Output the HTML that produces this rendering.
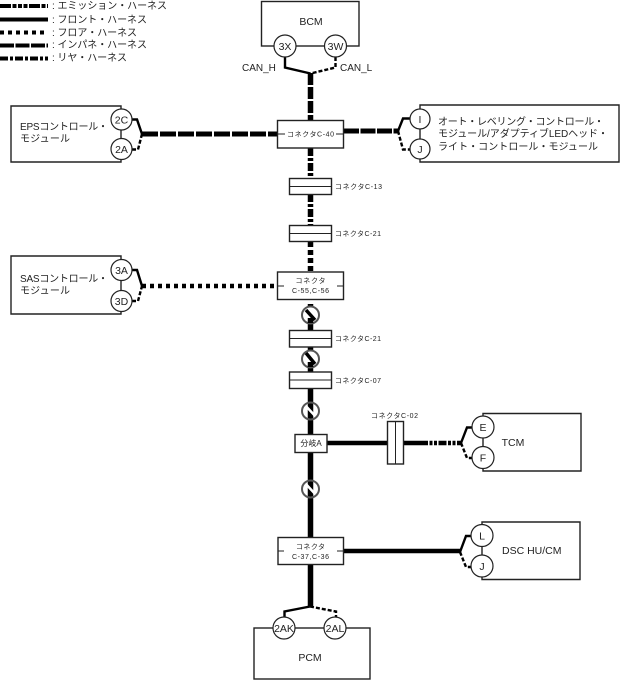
<!DOCTYPE html>
<html>
<head>
<meta charset="utf-8">
<style>
html,body{margin:0;padding:0;background:#fff;width:620px;height:680px;overflow:hidden}
svg{display:block}
text{font-family:"Liberation Sans","Noto Sans CJK JP",sans-serif;fill:#222}
.b{fill:#fff;stroke:#222;stroke-width:1.4}
.l{fill:none;stroke:#000;stroke-linejoin:miter}
.c{fill:#fff;stroke:#222;stroke-width:1.2}
.m{font-size:10px}
.s{font-size:7px}
.p{font-size:10.5px;text-anchor:middle}
</style>
</head>
<body>
<svg width="620" height="680" viewBox="0 0 620 680" xmlns="http://www.w3.org/2000/svg">
<!-- legend -->
<g class="l" stroke-width="4" style="stroke:#000">
<path d="M0 6H48" stroke-dasharray="11 1.5 4 1.5 4 1.5 4 1.5"/>
<path d="M0 19.5H48"/>
<path d="M0 32.5H48" stroke-dasharray="4 4"/>
<path d="M0 45.5H48" stroke-dasharray="14 1.5"/>
<path d="M0 58.5H48" stroke-dasharray="8 2 3 2"/>
</g>
<text class="m" x="52" y="9" textLength="115">: エミッション・ハーネス</text>
<text class="m" x="52" y="23" textLength="95">: フロント・ハーネス</text>
<text class="m" x="52" y="36" textLength="85">: フロア・ハーネス</text>
<text class="m" x="52" y="48" textLength="95">: インパネ・ハーネス</text>
<text class="m" x="52" y="61" textLength="75">: リヤ・ハーネス</text>

<!-- harness verticals -->
<path class="l" stroke-width="5.5" d="M310.5 73V120" stroke-dasharray="12 2"/>
<path class="l" stroke-width="5.5" d="M310.5 148V178" stroke-dasharray="8 2 3 2"/>
<path class="l" stroke-width="5.5" d="M310.5 194V225" stroke-dasharray="8 2 3 2"/>
<path class="l" stroke-width="5.5" d="M310.5 242V272" stroke-dasharray="5 3"/>
<path class="l" stroke-width="5.5" d="M310.5 304V330M310.5 347V372M310.5 388V537M310.5 564V606"/>

<!-- horizontals -->
<path class="l" stroke-width="5" d="M142 134H277" stroke-dasharray="16 2"/>
<path class="l" stroke-width="5" d="M344 131H398" stroke-dasharray="15 1.5"/>
<path class="l" stroke-width="4.5" d="M142 286H277" stroke-dasharray="4 4"/>
<path class="l" stroke-width="4.5" d="M327 443H387"/>
<path class="l" stroke-width="4.5" d="M403 443H420"/>
<path class="l" stroke-width="4.5" d="M420 443H461" stroke-dasharray="8 1.5 3 1.5 3 1.5"/>
<path class="l" stroke-width="4.5" d="M344 551H460"/>

<!-- BCM -->
<rect class="b" x="261.5" y="1.5" width="97.5" height="44.5"/>
<text class="p" x="311" y="25" style="font-size:10.5px">BCM</text>
<path class="l" stroke-width="2.4" d="M285 57V67.5L310.5 73.5"/>
<path class="l" stroke-width="2.4" stroke-dasharray="4 2" d="M335.5 57V67.5L310.5 73.5"/>
<circle class="c" cx="285" cy="46" r="11"/>
<circle class="c" cx="335.5" cy="46" r="11"/>
<text class="p" x="285" y="50">3X</text>
<text class="p" x="335.5" y="50">3W</text>
<text class="m" x="242" y="71" style="font-size:10px">CAN_H</text>
<text class="m" x="340" y="71" style="font-size:10px">CAN_L</text>

<!-- C-40 -->
<rect class="b" x="277.5" y="120.5" width="66" height="27.5"/>
<path d="M277.5 134H285M336 134H343.5" stroke="#222" stroke-width="1"/>
<text class="s" x="287" y="136.5" textLength="47">コネクタC-40</text>

<!-- EPS -->
<path class="b" d="M121 106H11V162H121Z"/>
<text class="m" x="20" y="130" textLength="88">EPSコントロール・</text>
<text class="m" x="20" y="142" textLength="50">モジュール</text>
<path class="l" stroke-width="2.4" d="M132 119.5H137L142 134"/>
<path class="l" stroke-width="2.4" stroke-dasharray="4 2" d="M132 149.5H138L142 134"/>
<circle class="c" cx="121.5" cy="119.5" r="10.5"/>
<circle class="c" cx="121.5" cy="149" r="10.5"/>
<text class="p" x="121.5" y="123.5">2C</text>
<text class="p" x="121.5" y="153">2A</text>

<!-- Right module -->
<path class="b" d="M420 105H619V162H420Z"/>
<path class="l" stroke-width="2.4" d="M398 131L403 118.5H410"/>
<path class="l" stroke-width="2.4" stroke-dasharray="4 2" d="M398 131L403 149.5H410"/>
<circle class="c" cx="420" cy="119" r="10"/>
<circle class="c" cx="420" cy="149" r="10"/>
<text class="p" x="420" y="123">I</text>
<text class="p" x="420" y="153">J</text>
<text class="m" x="438" y="125" textLength="166">オート・レベリング・コントロール・</text>
<text class="m" x="438" y="137" textLength="170">モジュール/アダプティブLEDヘッド・</text>
<text class="m" x="438" y="150" textLength="160">ライト・コントロール・モジュール</text>

<!-- C-13 -->
<rect class="b" x="289.5" y="178.5" width="42" height="16"/>
<path d="M289.5 186.5H331.5" stroke="#222" stroke-width="1"/>
<text class="s" x="335" y="189" textLength="47">コネクタC-13</text>
<!-- C-21 -->
<rect class="b" x="289.5" y="225.5" width="42" height="16"/>
<path d="M289.5 233.5H331.5" stroke="#222" stroke-width="1"/>
<text class="s" x="335" y="236" textLength="46">コネクタC-21</text>

<!-- C-55 -->
<rect class="b" x="277.5" y="272" width="66" height="27.5"/>
<path d="M277.5 286H284M337 286H343.5" stroke="#222" stroke-width="1"/>
<text class="s" x="310.5" y="283" text-anchor="middle" textLength="30">コネクタ</text>
<text class="s" x="310.5" y="293" text-anchor="middle" textLength="37">C-55,C-56</text>

<!-- SAS -->
<path class="b" d="M121 256H11V314H121Z"/>
<text class="m" x="20" y="282" textLength="88">SASコントロール・</text>
<text class="m" x="20" y="294" textLength="50">モジュール</text>
<path class="l" stroke-width="2.4" d="M132 270H137L142 286"/>
<path class="l" stroke-width="2.4" stroke-dasharray="4 2" d="M132 301H138L142 286"/>
<circle class="c" cx="121.5" cy="270" r="10.5"/>
<circle class="c" cx="121.5" cy="301" r="10.5"/>
<text class="p" x="121.5" y="274">3A</text>
<text class="p" x="121.5" y="305">3D</text>

<!-- twist symbols -->
<g fill="none" stroke="#555" stroke-width="2">
<circle cx="310.5" cy="315" r="8.5" fill="#fff"/>
<circle cx="310.5" cy="359" r="8.5" fill="#fff"/>
</g>
<path d="M306 310L315 320" stroke="#000" stroke-width="3.5"/>
<path d="M310.5 318V323" stroke="#000" stroke-width="5.5"/>
<path d="M306 353L315 364" stroke="#000" stroke-width="3.5"/>
<path d="M310.5 362V367" stroke="#000" stroke-width="5.5"/>
<g stroke="#fff" stroke-width="2.5">
<path d="M304 404L317 418"/>
<path d="M304 482L317 496"/>
</g>
<g fill="none" stroke="#555" stroke-width="2">
<circle cx="310.5" cy="411" r="8.5"/>
<circle cx="310.5" cy="489" r="8.5"/>
</g>

<!-- C-21b -->
<rect class="b" x="289.5" y="330.5" width="42" height="16.5"/>
<path d="M289.5 338.5H331.5" stroke="#222" stroke-width="1"/>
<text class="s" x="335" y="341" textLength="46">コネクタC-21</text>
<!-- C-07 -->
<rect class="b" x="289.5" y="372" width="42" height="16.5"/>
<path d="M289.5 380H331.5" stroke="#222" stroke-width="1"/>
<text class="s" x="335" y="383" textLength="46">コネクタC-07</text>

<!-- branch A -->
<rect class="b" x="295" y="434.5" width="32" height="18"/>
<text class="s" x="311" y="446" text-anchor="middle" style="font-size:8px">分岐A</text>

<!-- C-02 -->
<rect class="b" x="387.5" y="421.5" width="16" height="42.5"/>
<path d="M395.5 421.5V464" stroke="#222" stroke-width="1"/>
<text class="s" x="371" y="418" textLength="47">コネクタC-02</text>

<!-- TCM -->
<path class="b" d="M483 413.5H581V471H483Z"/>
<path class="l" stroke-width="2.4" d="M461 443L467 427.5H473"/>
<path class="l" stroke-width="2.4" stroke-dasharray="4 2" d="M461 443L467 458H473"/>
<circle class="c" cx="483" cy="427" r="11"/>
<circle class="c" cx="483" cy="457.5" r="11"/>
<text class="p" x="483" y="431">E</text>
<text class="p" x="483" y="461.5">F</text>
<text class="p" x="513" y="446" style="font-size:10.5px">TCM</text>

<!-- DSC -->
<path class="b" d="M482 522H580V579.5H482Z"/>
<path class="l" stroke-width="2.4" d="M460 552L466 536H472"/>
<path class="l" stroke-width="2.4" stroke-dasharray="4 2" d="M460 552L466 567H472"/>
<circle class="c" cx="482" cy="535.5" r="11"/>
<circle class="c" cx="482" cy="566" r="11"/>
<text class="p" x="482" y="539.5">L</text>
<text class="p" x="482" y="570">J</text>
<text x="502" y="554" style="font-size:10.5px">DSC HU/CM</text>

<!-- C-37 -->
<rect class="b" x="278" y="537.5" width="65.5" height="27"/>
<path d="M278 551H284M337 551H343.5" stroke="#222" stroke-width="1"/>
<text class="s" x="310.5" y="549" text-anchor="middle" textLength="29">コネクタ</text>
<text class="s" x="310.5" y="559" text-anchor="middle" textLength="37">C-37,C-36</text>

<!-- PCM -->
<rect class="b" x="254" y="628" width="116" height="51"/>
<path class="l" stroke-width="2.4" d="M310 606.5L284.5 611.5V617"/>
<path class="l" stroke-width="2.4" stroke-dasharray="4 2" d="M310 606.5L336 611.5V617"/>
<circle class="c" cx="284" cy="628" r="11"/>
<circle class="c" cx="335" cy="628" r="11"/>
<text class="p" x="284" y="632">2AK</text>
<text class="p" x="335" y="632">2AL</text>
<text class="p" x="310" y="661" style="font-size:10.5px">PCM</text>
</svg>
</body>
</html>
